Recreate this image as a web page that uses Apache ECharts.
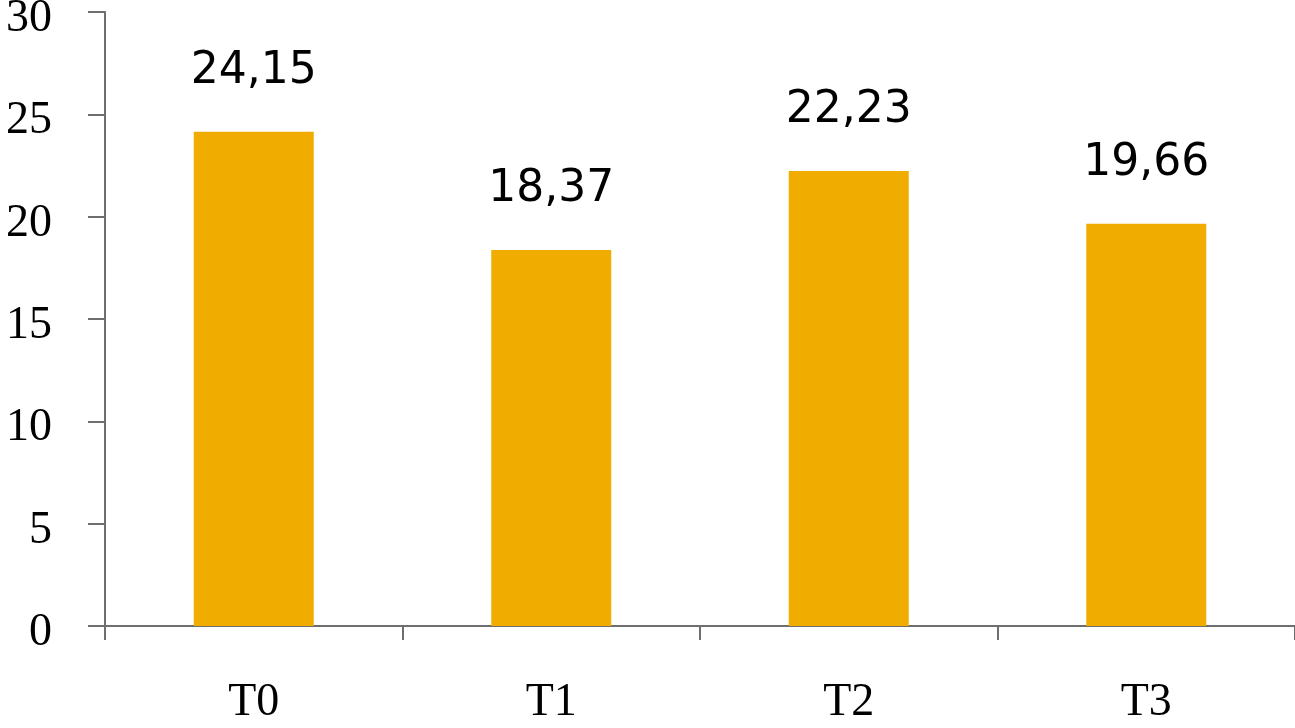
<!DOCTYPE html>
<html>
<head>
<meta charset="utf-8">
<script src="https://cdn.jsdelivr.net/npm/echarts@6/dist/echarts.min.js"></script>
<style>
  html, body { margin: 0; padding: 0; background: #ffffff; }
  #chart { width: 1295px; height: 728px; }
</style>
</head>
<body>
<div id="chart"></div>
<script>
const categories = ['T0', 'T1', 'T2', 'T3'];
const values = [24.15, 18.37, 22.23, 19.66];
const yTicks = [0, 5, 10, 15, 20, 25, 30];

const chart = echarts.init(document.getElementById('chart'));
chart.setOption({
  animation: false,
  grid: { left: 105, right: 0, top: 12, bottom: 102, containLabel: false, outerBoundsMode: 'none' },
  xAxis: {
    type: 'category',
    data: categories,
    axisLine: { lineStyle: { color: '#6e6e6e', width: 2 } },
    axisTick: { show: true, length: 14, lineStyle: { color: '#6e6e6e', width: 2 } },
    axisLabel: {
      margin: 54,
      color: '#000',
      fontFamily: 'Liberation Serif',
      fontSize: 46
    }
  },
  yAxis: {
    type: 'value',
    min: yTicks[0],
    max: yTicks[yTicks.length - 1],
    interval: 5,
    splitLine: { show: false },
    axisLine: { show: true, lineStyle: { color: '#6e6e6e', width: 2 } },
    axisTick: { show: true, length: 17, lineStyle: { color: '#6e6e6e', width: 2 } },
    axisLabel: {
      margin: 53,
      color: '#000',
      formatter: v => '{n|' + v + '}',
      rich: {
        n: {
          fontFamily: 'Liberation Serif',
          fontSize: 46,
          color: '#000',
          padding: [14, 0, 0, 0]
        }
      }
    }
  },
  series: [{
    type: 'bar',
    data: values,
    barWidth: 120,
    itemStyle: { color: '#F0AD00' },
    label: {
      show: true,
      position: 'top',
      distance: 38,
      color: '#000',
      fontFamily: 'DejaVu Sans',
      fontSize: 44,
      formatter: p => p.value.toFixed(2).replace('.', ',')
    }
  }]
});
</script>
</body>
</html>
